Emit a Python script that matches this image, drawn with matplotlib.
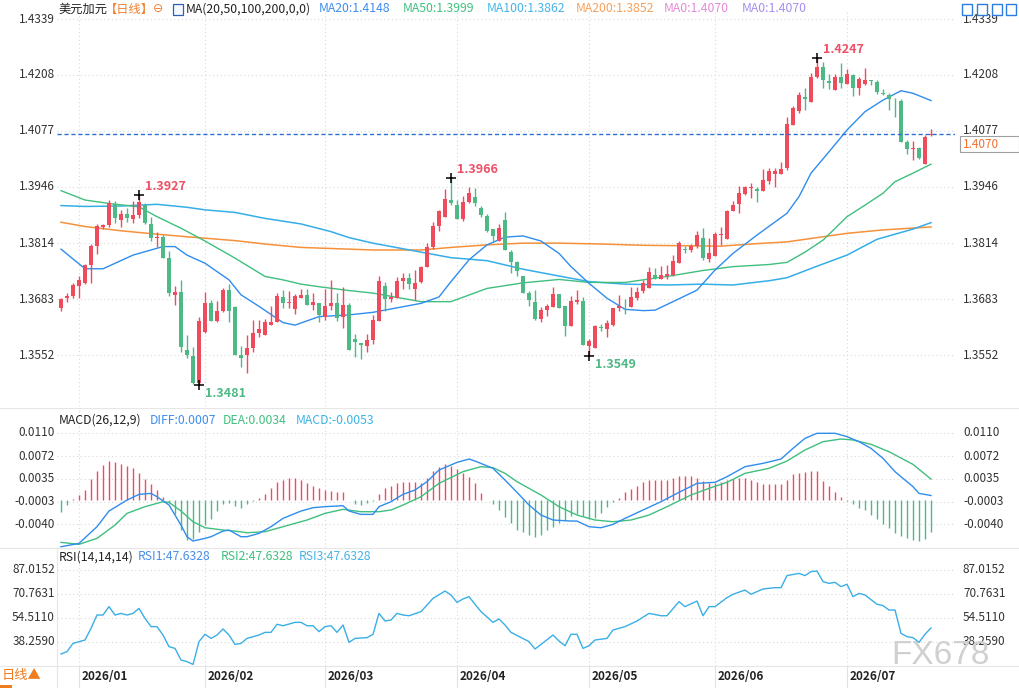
import matplotlib
matplotlib.use("Agg")
import matplotlib.pyplot as plt
from matplotlib.patches import Rectangle
from matplotlib.transforms import blended_transform_factory
import numpy as np

# ---------------- data ----------------
opens = [1.3662,1.3686,1.3690,1.3714,1.3721,1.3762,1.3807,1.3852,1.3856,1.3905,1.3868,1.3882,1.3871,1.3880,1.3903,1.3859,1.3826,1.3829,1.3779,1.3692,
         1.3700,1.3563,1.3550,1.3486,1.3606,1.3673,1.3632,1.3654,1.3704,1.3665,1.3553,1.3551,1.3569,1.3603,1.3600,1.3623,1.3630,1.3689,1.3673,1.3659,
         1.3686,1.3692,1.3670,1.3675,1.3642,1.3667,1.3675,1.3640,1.3668,1.3590,1.3581,1.3574,1.3587,1.3632,1.3714,1.3683,1.3686,1.3726,1.3733,1.3707,
         1.3722,1.3759,1.3804,1.3854,1.3875,1.3914,1.3904,1.3870,1.3910,1.3921,1.3896,1.3878,1.3847,1.3819,1.3868,1.3794,1.3771,1.3736,1.3697,1.3676,
         1.3637,1.3657,1.3665,1.3695,1.3667,1.3620,1.3677,1.3679,1.3574,1.3569,1.3617,1.3614,1.3623,1.3661,1.3675,1.3665,1.3686,1.3701,1.3710,1.3740,
         1.3729,1.3736,1.3740,1.3768,1.3800,1.3797,1.3807,1.3825,1.3776,1.3784,1.3832,1.3823,1.3890,1.3905,1.3930,1.3944,1.3942,1.3937,1.3960,1.3976,
         1.3976,1.3989,1.4091,1.4123,1.4156,1.4145,1.4203,1.4226,1.4194,1.4173,1.4202,1.4187,1.4208,1.4177,1.4186,1.4196,1.4191,1.4166,1.4161,1.4152,
         1.4148,1.4052,1.4035,1.4037,1.4000,1.4067]
highs = [1.3685,1.3697,1.3720,1.3736,1.3765,1.3812,1.3858,1.3859,1.3915,1.3913,1.3892,1.3896,1.3913,1.3927,1.3908,1.3876,1.3839,1.3833,1.3795,1.3714,
         1.3727,1.3598,1.3571,1.3642,1.3700,1.3681,1.3678,1.3709,1.3718,1.3667,1.3573,1.3599,1.3634,1.3634,1.3636,1.3667,1.3697,1.3704,1.3702,1.3695,
         1.3707,1.3707,1.3697,1.3675,1.3706,1.3727,1.3697,1.3711,1.3674,1.3601,1.3581,1.3601,1.3646,1.3737,1.3723,1.3700,1.3734,1.3745,1.3745,1.3752,
         1.3761,1.3815,1.3864,1.3892,1.3941,1.3966,1.3914,1.3924,1.3945,1.3944,1.3900,1.3883,1.3847,1.3858,1.3887,1.3798,1.3772,1.3736,1.3701,1.3704,
         1.3664,1.3671,1.3711,1.3695,1.3667,1.3690,1.3704,1.3687,1.3589,1.3622,1.3624,1.3634,1.3661,1.3693,1.3684,1.3711,1.3711,1.3728,1.3758,1.3756,
         1.3761,1.3763,1.3787,1.3820,1.3807,1.3811,1.3843,1.3849,1.3825,1.3841,1.3851,1.3892,1.3912,1.3948,1.3949,1.3954,1.3946,1.3987,1.3989,1.3989,
         1.4003,1.4109,1.4136,1.4169,1.4178,1.4212,1.4247,1.4238,1.4210,1.4210,1.4237,1.4222,1.4211,1.4203,1.4224,1.4197,1.4197,1.4176,1.4166,1.4153,
         1.4152,1.4056,1.4053,1.4039,1.4067,1.4081]
lows = [1.3656,1.3677,1.3685,1.3686,1.3718,1.3721,1.3788,1.3848,1.3851,1.3861,1.3853,1.3864,1.3862,1.3873,1.3858,1.3818,1.3804,1.3780,1.3690,1.3669,
        1.3558,1.3544,1.3483,1.3481,1.3603,1.3631,1.3630,1.3653,1.3630,1.3551,1.3523,1.3510,1.3560,1.3594,1.3599,1.3623,1.3630,1.3662,1.3662,1.3647,
        1.3685,1.3670,1.3658,1.3629,1.3633,1.3658,1.3631,1.3615,1.3564,1.3547,1.3542,1.3560,1.3577,1.3632,1.3655,1.3677,1.3686,1.3706,1.3706,1.3682,
        1.3720,1.3759,1.3800,1.3843,1.3875,1.3904,1.3870,1.3865,1.3907,1.3900,1.3875,1.3841,1.3818,1.3819,1.3798,1.3743,1.3737,1.3697,1.3667,1.3634,
        1.3629,1.3643,1.3665,1.3661,1.3596,1.3620,1.3672,1.3576,1.3549,1.3569,1.3608,1.3594,1.3621,1.3656,1.3648,1.3665,1.3682,1.3698,1.3710,1.3731,
        1.3729,1.3731,1.3738,1.3768,1.3792,1.3793,1.3802,1.3775,1.3771,1.3784,1.3810,1.3823,1.3889,1.3884,1.3926,1.3919,1.3910,1.3937,1.3953,1.3946,
        1.3976,1.3985,1.4090,1.4118,1.4125,1.4145,1.4200,1.4177,1.4175,1.4173,1.4178,1.4187,1.4158,1.4162,1.4185,1.4184,1.4164,1.4161,1.4126,1.4110,
        1.4052,1.4022,1.4009,1.4012,1.4000,1.4065]
closes = [1.3683,1.3690,1.3715,1.3728,1.3762,1.3807,1.3854,1.3856,1.3907,1.3872,1.3882,1.3874,1.3879,1.3910,1.3862,1.3827,1.3828,1.3780,1.3697,1.3700,
          1.3570,1.3552,1.3486,1.3632,1.3673,1.3632,1.3655,1.3704,1.3654,1.3553,1.3546,1.3569,1.3604,1.3613,1.3630,1.3629,1.3690,1.3675,1.3676,1.3690,
          1.3692,1.3670,1.3676,1.3645,1.3667,1.3675,1.3638,1.3669,1.3564,1.3583,1.3575,1.3587,1.3634,1.3725,1.3683,1.3689,1.3725,1.3733,1.3718,1.3721,
          1.3759,1.3804,1.3854,1.3889,1.3917,1.3908,1.3870,1.3910,1.3931,1.3907,1.3879,1.3843,1.3830,1.3850,1.3798,1.3771,1.3749,1.3698,1.3681,1.3637,
          1.3657,1.3667,1.3695,1.3661,1.3620,1.3679,1.3680,1.3576,1.3584,1.3620,1.3615,1.3628,1.3661,1.3667,1.3673,1.3689,1.3700,1.3721,1.3747,1.3733,
          1.3740,1.3742,1.3772,1.3814,1.3797,1.3807,1.3833,1.3779,1.3790,1.3835,1.3836,1.3890,1.3903,1.3932,1.3946,1.3946,1.3937,1.3962,1.3983,1.3984,
          1.3988,1.4093,1.4130,1.4161,1.4152,1.4204,1.4226,1.4195,1.4188,1.4202,1.4190,1.4210,1.4177,1.4199,1.4196,1.4194,1.4167,1.4163,1.4151,1.4151,
          1.4052,1.4035,1.4036,1.4013,1.4062,1.4070]

ma20_at  = [0,4,7,12,17,19,21,24,28,30,33,37,39,43,48,52,60,63,65,68,71,74,77,80,83,85,88,91,94,97,99,102,106,109,112,116,121,123,125,128,131,134,137,140,142,145]
ma20_val = [1.3800,1.3754,1.3754,1.3786,1.3806,1.3806,1.3786,1.3767,1.3728,1.3693,1.3666,1.3628,1.3622,1.3642,1.3646,1.3652,1.3673,1.3688,1.3724,1.3775,
            1.3810,1.3828,1.3831,1.3819,1.3790,1.3759,1.3720,1.3685,1.3659,1.3656,1.3657,1.3677,1.3704,1.3751,1.3790,1.3833,1.3884,1.3923,1.3978,1.4028,
            1.4079,1.4122,1.4149,1.4171,1.4165,1.4148]
ma50_at  = [0,4,8,13,16,20,24,29,34,37,40,43,48,52,60,65,71,77,83,88,94,101,107,112,118,121,124,127,131,134,137,139,142,145]
ma50_val = [1.3937,1.3915,1.3907,1.3899,1.3876,1.3849,1.3819,1.3779,1.3736,1.3728,1.3718,1.3712,1.3703,1.3697,1.3677,1.3677,1.3708,1.3721,1.3729,1.3722,
            1.3722,1.3736,1.3750,1.3759,1.3764,1.3769,1.3793,1.3821,1.3876,1.3903,1.3931,1.3958,1.3978,1.3999]
ma100_at  = [0,4,10,16,21,24,29,34,40,45,48,52,60,65,71,77,83,88,94,101,107,112,118,121,126,131,136,142,145]
ma100_val = [1.3902,1.3900,1.3901,1.3905,1.3898,1.3892,1.3886,1.3872,1.3859,1.3841,1.3827,1.3814,1.3793,1.3780,1.3773,1.3753,1.3737,1.3724,1.3718,1.3716,
             1.3718,1.3716,1.3726,1.3733,1.3760,1.3786,1.3823,1.3847,1.3862]
ma200_at  = [0,4,10,16,21,29,34,40,48,52,60,65,71,77,83,90,97,110,115,121,125,131,137,145]
ma200_val = [1.3863,1.3853,1.3843,1.3835,1.3829,1.3820,1.3812,1.3804,1.3800,1.3798,1.3798,1.3804,1.3810,1.3814,1.3814,1.3812,1.3809,1.3807,1.3812,1.3817,
             1.3825,1.3837,1.3845,1.3852]

diff_at  = [0,3,6,8,11,13,15,16,18,20,21,22,24,25,27,28,30,31,33,35,37,40,42,44,47,48,50,52,53,55,57,59,61,63,66,68,69,72,74,76,78,80,82,85,86,88,90,92,94,
            97,100,103,106,109,111,114,117,120,122,124,126,129,131,133,135,137,139,142,143,145]
diff_val = [-0.00774,-0.00719,-0.00444,-0.00186,-0.00005,0.00089,0.00105,0.00050,-0.00087,-0.00417,-0.00609,-0.00680,-0.00636,-0.00609,-0.00516,-0.00499,
            -0.00609,-0.00609,-0.00554,-0.00444,-0.00307,-0.00186,-0.00131,-0.00114,-0.00098,-0.00186,-0.00241,-0.00241,-0.00114,-0.00032,0.00089,0.00160,
            0.00298,0.00490,0.00616,0.00671,0.00638,0.00518,0.00325,0.00122,-0.00087,-0.00252,-0.00334,-0.00351,-0.00351,-0.00444,-0.00461,-0.00406,-0.00307,
            -0.00169,-0.00032,0.00122,0.00270,0.00287,0.00380,0.00545,0.00600,0.00671,0.00847,0.01012,0.01095,0.01095,0.01040,0.00957,0.00847,0.00682,
            0.00463,0.00215,0.00105,0.00070]
dea_at  = [0,3,6,9,11,14,17,18,20,22,24,27,29,31,34,37,41,44,47,50,53,55,57,60,63,67,70,72,74,76,80,83,86,89,92,95,98,101,105,108,111,114,118,121,124,127,
           130,132,135,138,142,145]
dea_val = [-0.00702,-0.00735,-0.00636,-0.00417,-0.00224,-0.00114,-0.00032,-0.00043,-0.00186,-0.00362,-0.00461,-0.00499,-0.00516,-0.00543,-0.00527,-0.00444,
           -0.00334,-0.00224,-0.00158,-0.00197,-0.00197,-0.00169,-0.00087,0.00050,0.00270,0.00463,0.00545,0.00529,0.00435,0.00298,0.00078,-0.00114,-0.00252,
           -0.00334,-0.00362,-0.00334,-0.00252,-0.00114,0.00078,0.00188,0.00287,0.00435,0.00518,0.00638,0.00820,0.00957,0.01001,0.00985,0.00913,0.00792,
           0.00583,0.00340]
macd_hist = [-0.00203,-0.00082,0.00005,0.00082,0.00165,0.00335,0.00467,0.00566,0.00632,0.00615,0.00593,0.00549,0.00517,0.00440,0.00346,0.00264,0.00154,
             0.00049,-0.00055,-0.00236,-0.00495,-0.00670,-0.00643,-0.00539,-0.00423,-0.00313,-0.00187,-0.00077,-0.00049,-0.00110,-0.00132,-0.00066,-0.00022,
             0.00027,0.00099,0.00192,0.00286,0.00324,0.00352,0.00363,0.00324,0.00275,0.00231,0.00187,0.00165,0.00137,0.00126,0.00121,-0.00005,-0.00071,
             -0.00093,-0.00049,-0.00022,0.00099,0.00187,0.00220,0.00275,0.00291,0.00291,0.00286,0.00280,0.00363,0.00473,0.00544,0.00593,0.00560,0.00500,
             0.00434,0.00368,0.00280,0.00110,-0.00005,-0.00066,-0.00176,-0.00286,-0.00385,-0.00506,-0.00539,-0.00577,-0.00621,-0.00582,-0.00506,-0.00445,
             -0.00385,-0.00330,-0.00269,-0.00231,-0.00264,-0.00313,-0.00297,-0.00214,-0.00121,-0.00038,0.00033,0.00121,0.00181,0.00231,0.00291,0.00324,
             0.00330,0.00319,0.00324,0.00357,0.00385,0.00385,0.00385,0.00357,0.00313,0.00275,0.00269,0.00297,0.00330,0.00346,0.00363,0.00352,0.00324,
             0.00286,0.00264,0.00264,0.00253,0.00264,0.00319,0.00429,0.00445,0.00456,0.00467,0.00467,0.00308,0.00225,0.00132,0.00044,-0.00022,-0.00077,
             -0.00137,-0.00176,-0.00247,-0.00319,-0.00396,-0.00473,-0.00544,-0.00599,-0.00637,-0.00670,-0.00681,-0.00643,-0.00533]

rsi_at  = [0,1,2,4,5,6,7,8,9,10,11,12,13,14,15,16,17,18,19,20,21,22,23,24,25,26,27,28,29,30,31,33,34,35,36,37,39,40,41,42,43,44,45,46,47,48,49,51,52,53,54,
           55,56,57,58,60,61,62,64,65,66,67,68,69,70,72,73,74,75,78,79,80,82,83,84,85,86,87,88,89,91,92,94,96,98,100,101,103,104,106,107,108,109,111,112,
           114,115,117,119,120,121,123,124,125,126,127,128,129,130,131,132,133,134,136,137,138,139,140,141,142,143,144,145]
rsi_val = [29.9,31.5,37.1,39.4,47.3,56.4,56.4,62.1,56.4,57.5,56.4,57.5,60.9,54.1,48.5,48.5,42.8,34.9,33.7,25.8,24.7,22.8,38.3,43.3,40.5,42.8,46.9,42.8,36.4,
           37.1,40.5,42.8,44.6,44.6,50.1,49.1,51.4,51.4,49.1,49.1,45.1,48.5,49.1,44.6,49.6,37.8,40.5,41.0,43.3,57.5,52.3,53.0,57.5,56.4,55.9,58.7,63.2,67.7,
           72.7,70.0,65.0,67.3,68.9,63.7,58.7,51.4,53.7,49.6,44.6,38.3,33.3,36.4,42.8,38.7,35.5,43.3,43.3,33.7,35.5,39.4,40.5,46.2,48.5,52.3,57.5,55.9,55.9,
           65.5,62.1,65.9,55.9,62.1,62.1,68.2,70.5,73.4,70.5,74.1,75.0,75.0,83.2,84.7,83.2,85.9,86.3,79.1,77.9,78.6,75.7,77.3,68.9,71.1,70.0,63.7,62.8,59.8,
           59.8,43.9,41.7,41.0,37.8,43.3,47.63]

price_ticks = [1.4339, 1.4208, 1.4077, 1.3946, 1.3814, 1.3683, 1.3552]
macd_ticks = [0.0110, 0.0072, 0.0035, -0.0003, -0.0040]
rsi_ticks = [87.0152, 70.7631, 54.5110, 38.2590]
month_start = [3, 24, 44, 66, 88, 109, 131]
month_labels = ["2026/01", "2026/02", "2026/03", "2026/04", "2026/05", "2026/06", "2026/07"]
extremes = [(13, "high"), (23, "low"), (65, "high"), (88, "low"), (126, "high")]

# ---------------- style ----------------
plt.rcParams['font.family'] = ['Noto Sans CJK SC', 'DejaVu Sans']
plt.rcParams['axes.unicode_minus'] = False

W, H = 1020, 688
fig = plt.figure(figsize=(W / 100, H / 100), dpi=100)
fig.patch.set_facecolor('white')

UP = '#ee4b5c'
DN = '#4fb985'
GRID = '#d9d9d9'
C_MA20 = '#2f8ded'
C_MA50 = '#3fbf7f'
C_MA100 = '#35aee8'
C_MA200 = '#f5913a'
XL = (-0.667, 149.0)


def add_ax(l, t, r, b):
    a = fig.add_axes([l / W, 1 - b / H, (r - l) / W, (b - t) / H])
    a.set_xlim(*XL)
    for s in a.spines.values():
        s.set_visible(False)
    a.set_xticks([])
    a.set_yticks([])
    a.patch.set_alpha(0)
    return a


def grid_and_labels(a, ticks, labels):
    for t in ticks:
        a.axhline(t, color=GRID, lw=0.8, ls=(0, (1, 2.5)), zorder=0)
    for m in month_start:
        a.axvline(m, color=GRID, lw=0.8, ls=(0, (1, 2.5)), zorder=0)
    tr = blended_transform_factory(fig.transFigure, a.transData)
    for t, lab in zip(ticks, labels):
        a.text(55 / W, t, lab, transform=tr, ha='right', va='center', fontsize=8.5, color='#333333')
        a.text(963 / W, t, lab, transform=tr, ha='left', va='center', fontsize=8.5, color='#333333')


# ---------------- main price panel ----------------
ax = add_ax(57, 12, 955, 406)
ax.set_ylim(1.34326, 1.43554)
grid_and_labels(ax, price_ticks, [f"{v:.4f}" for v in price_ticks])

n = len(closes)
idx = np.arange(n)
o = np.array(opens); c = np.array(closes); h = np.array(highs); l = np.array(lows)
cols = [UP if cc >= oo else DN for oo, cc in zip(o, c)]
ax.vlines(idx, l, h, colors=cols, lw=1, zorder=3)
ax.bar(idx, np.maximum(np.abs(c - o), 0.00005), bottom=np.minimum(o, c), width=0.7,
       color=cols, linewidth=0, zorder=4)

ax.plot(ma200_at, ma200_val, color=C_MA200, lw=1.1, zorder=2)
ax.plot(ma100_at, ma100_val, color=C_MA100, lw=1.1, zorder=2)
ax.plot(ma50_at, ma50_val, color=C_MA50, lw=1.0, zorder=2)
ax.plot(ma20_at, ma20_val, color=C_MA20, lw=1.0, zorder=2)

ax.axhline(closes[-1], color='#2f6fd0', lw=1, ls=(0, (3, 2)), zorder=5)

for i, kind in extremes:
    v = highs[i] if kind == "high" else lows[i]
    ax.plot(i, v, marker='+', color='black', ms=7, mew=1.1, zorder=6)
    if kind == "high":
        ax.annotate(f"{v:.4f}", (i, v), xytext=(4.5, 6), textcoords='offset points',
                    ha='left', va='center', fontsize=9, fontweight='bold', color='#ef5065', zorder=7)
    else:
        ax.annotate(f"{v:.4f}", (i, v), xytext=(4.5, -6), textcoords='offset points',
                    ha='left', va='center', fontsize=9, fontweight='bold', color='#4fb985', zorder=7)

# current price box on the right
fig.patches.append(Rectangle((960 / W, 1 - 152 / H), 59 / W, 16 / H, transform=fig.transFigure,
                             facecolor='white', edgecolor='#a0a0a0', lw=0.8))
fig.text(963 / W, 1 - 144 / H, f"{closes[-1]:.4f}", ha='left', va='center', fontsize=8.5, color='#f07030')

# ---------------- MACD panel ----------------
axm = add_ax(57, 410, 955, 548)
axm.set_ylim(-0.00795, 0.01479)
grid_and_labels(axm, macd_ticks, ["0.0110", "0.0072", "0.0035", "-0.0003", "-0.0040"])
hcols = [UP if v >= 0 else DN for v in macd_hist]
axm.vlines(np.arange(len(macd_hist)), 0, macd_hist, colors=hcols, lw=1, zorder=2)
axm.plot(dea_at, dea_val, color=C_MA50, lw=1.0, zorder=3)
axm.plot(diff_at, diff_val, color=C_MA20, lw=1.0, zorder=3)

# ---------------- RSI panel ----------------
axr = add_ax(57, 550, 955, 666)
axr.set_ylim(21.73, 100.6)
grid_and_labels(axr, rsi_ticks, ["87.0152", "70.7631", "54.5110", "38.2590"])
axr.plot(rsi_at, rsi_val, color='#3aaee6', lw=1.0, zorder=3)

# ---------------- date strip ----------------
axd = add_ax(57, 666, 955, 688)
axd.set_ylim(0, 1)
for m, lab in zip(month_start, month_labels):
    axd.axvline(m, color='#e2e2e2', lw=0.8)
    axd.text(m + 0.35, 0.52, lab, ha='left', va='center', fontsize=8.5, fontweight='bold', color='#222222')

# separators
for yy in (408, 548, 666):
    fig.add_artist(plt.Line2D([0, 1], [1 - yy / H, 1 - yy / H], transform=fig.transFigure, color='#e6e6e6', lw=0.8))
fig.add_artist(plt.Line2D([57 / W, 57 / W], [0, 1 - 548 / H], transform=fig.transFigure, color='#e6e6e6', lw=0.8))

fig.text(2 / W, 1 - 676 / H, "日线▲", ha='left', va='center', fontsize=9.5, color='#f07c1e')
fig.patches.append(Rectangle((0, 0), 12 / W, 3 / H, transform=fig.transFigure, facecolor='#f07c1e', edgecolor='none'))

# ---------------- headers ----------------
def htext(x, y, s, color, **kw):
    fig.text(x / W, 1 - y / H, s, ha='left', va='center', fontsize=8.8, color=color, **kw)

htext(58, 9, "美元加元", '#222222')
htext(105, 9, "【日线】", '#f08030')
htext(153, 9, "⊖", '#f08030', family=['DejaVu Sans'])
fig.patches.append(Rectangle((173 / W, 1 - 15 / H), 10 / W, 11 / H, transform=fig.transFigure,
                             facecolor='#f4f8ff', edgecolor='#2b5fb8', lw=0.9))
htext(186, 9, "MA(20,50,100,200,0,0)", '#222222')
htext(319, 9, "MA20:1.4148", '#3d8ef0')
htext(403, 9, "MA50:1.3999", '#40c080')
htext(487, 9, "MA100:1.3862", '#47b4e8')
htext(576, 9, "MA200:1.3852", '#f6a15b')
htext(664, 9, "MA0:1.4070", '#e58ad8')
htext(742, 9, "MA0:1.4070", '#a58df0')
for xi in (962, 977, 992, 1006):
    fig.patches.append(Rectangle((xi / W, 1 - 15 / H), 10 / W, 11 / H, transform=fig.transFigure,
                                 facecolor='white', edgecolor='#2b7de0', lw=1.0))

htext(59, 420, "MACD(26,12,9)", '#222222')
htext(150, 420, "DIFF:0.0007", '#3d8ef0')
htext(223, 420, "DEA:0.0034", '#40c080')
htext(296, 420, "MACD:-0.0053", '#3ab3e8')

htext(59, 557, "RSI(14,14,14)", '#222222')
htext(138, 557, "RSI1:47.6328", '#4a8fe8')
htext(221, 557, "RSI2:47.6328", '#40c080')
htext(299, 557, "RSI3:47.6328", '#47b4e8')

# watermark
fig.text(990 / W, 1 - 655 / H, "FX678", ha='right', va='center', fontsize=24,
         color='#d0d0d0', family=['Liberation Sans', 'DejaVu Sans'])

fig.savefig("out.png", dpi=100)
